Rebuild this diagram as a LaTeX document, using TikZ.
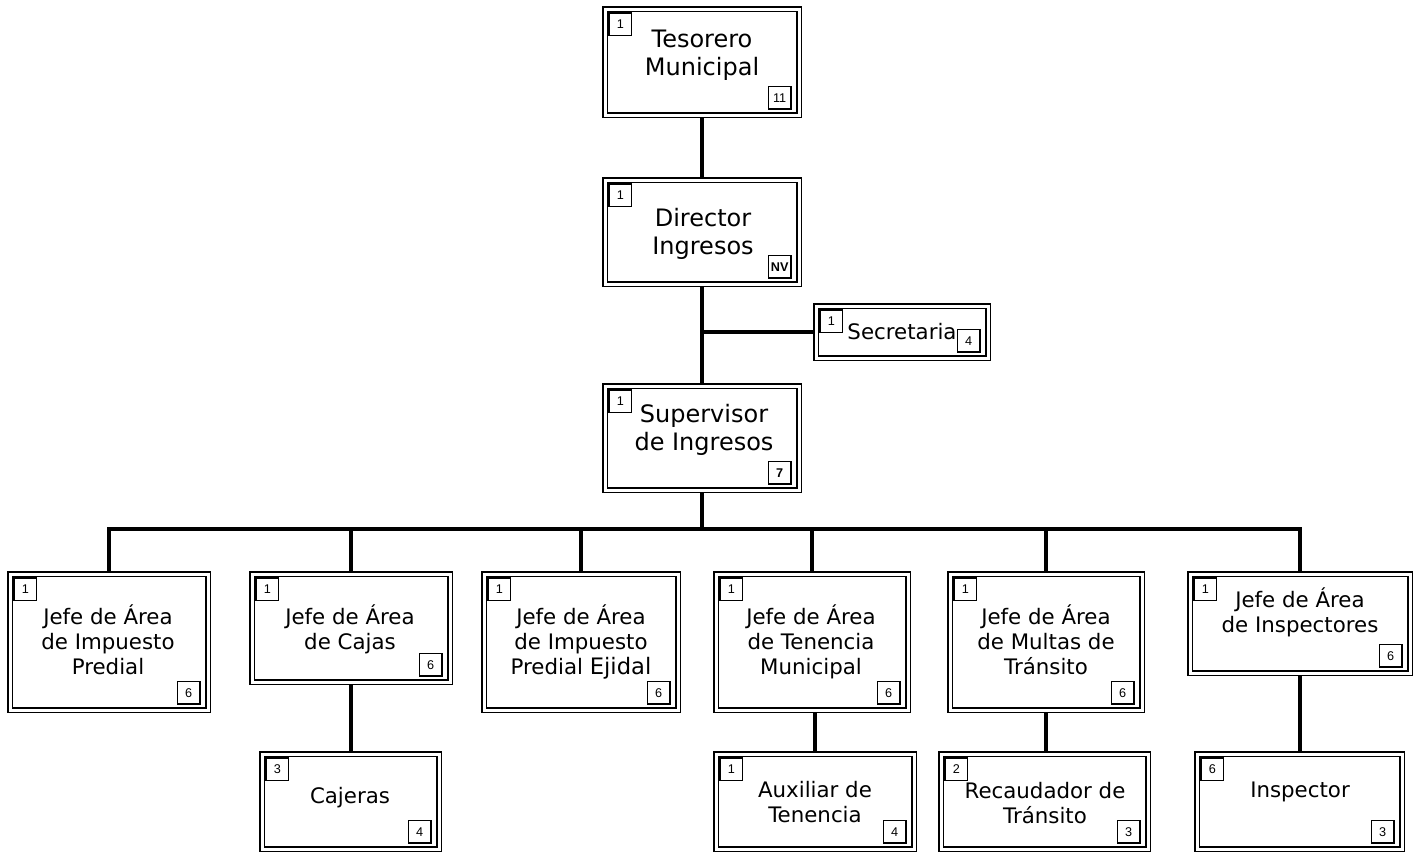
\documentclass[tikz,border=0pt]{standalone}
\usepackage{fontspec}
\setmainfont{DejaVu Sans}
\newfontfamily\numfont{Liberation Sans}
\usetikzlibrary{backgrounds,calc}
\newcommand\lblstrut{\rule{0pt}{30pt}}
\tikzset{
  box/.style={draw, double, line width=1.1pt, double distance=2.25pt, fill=white, inner sep=0pt, outer sep=0pt, rectangle},
  nbox/.style={draw, line width=0.9pt, fill=white, inner sep=0pt, outer sep=0pt, minimum size=17pt, font=\numfont\fontsize{9.5}{10}\selectfont},
  lblbig/.style={inner sep=0pt, anchor=north, align=center, font=\fontsize{18}{21}\selectfont},
  lblmid/.style={inner sep=0pt, anchor=north, align=center, font=\fontsize{16}{18.75}\selectfont},
  conn/.style={line width=3pt},
}
\begin{document}
\begin{tikzpicture}[x=0.75pt,y=-0.75pt]
\useasboundingbox (0,0) rectangle (1421,854);
% boxes
\node[box, minimum width=145.5pt, minimum height=79.5pt] (tes) at (702,62) {};
\node[box, minimum width=145.5pt, minimum height=78pt] (dir) at (702,232) {};
\node[box, minimum width=129pt, minimum height=39pt] (sec) at (902,332) {};
\node[box, minimum width=145.5pt, minimum height=78pt] (sup) at (702,438) {};
\node[box, minimum width=148.5pt, minimum height=102pt] (j1) at (109,642) {};
\node[box, minimum width=148.5pt, minimum height=81pt] (j2) at (351,628) {};
\node[box, minimum width=145.5pt, minimum height=102pt] (j3) at (581,642) {};
\node[box, minimum width=144pt, minimum height=102pt] (j4) at (812,642) {};
\node[box, minimum width=144pt, minimum height=102pt] (j5) at (1046,642) {};
\node[box, minimum width=165pt, minimum height=74.25pt] (j6) at (1300,623.5) {};
\node[box, minimum width=132.75pt, minimum height=71.25pt] (caj) at (350.5,801.5) {};
\node[box, minimum width=148.5pt, minimum height=71.25pt] (aux) at (815,801.5) {};
\node[box, minimum width=155.25pt, minimum height=71.25pt] (rec) at (1044.5,801.5) {};
\node[box, minimum width=153.75pt, minimum height=71.25pt] (ins) at (1299.5,801.5) {};
% labels
\node[lblbig] (tes-t) at (702,7) {\lblstrut Tesorero\\Municipal};
\node[lblbig] (dir-t) at (703,186) {\lblstrut Director\\Ingresos};
\node[lblmid] (sec-t) at (902,299) {\lblstrut Secretaria};
\node[lblbig] (sup-t) at (704,382) {\lblstrut Supervisor\\de Ingresos};
\node[lblmid] (j1-t) at (108,584) {\lblstrut Jefe de Área\\de Impuesto\\Predial};
\node[lblmid] (j2-t) at (350,584) {\lblstrut Jefe de Área\\de Cajas};
\node[lblmid] (j3-t) at (581,584) {\lblstrut Jefe de Área\\de Impuesto\\Predial {\fontsize{17}{18.75}\selectfont Ejidal}};
\node[lblmid] (j4-t) at (811,584) {\lblstrut Jefe de Área\\de Tenencia\\Municipal};
\node[lblmid] (j5-t) at (1046,584) {\lblstrut Jefe de Área\\de Multas de\\Tránsito};
\node[lblmid] (j6-t) at (1300,567) {\lblstrut Jefe de Área\\de Inspectores};
\node[lblmid] (caj-t) at (350,763) {\lblstrut Cajeras};
\node[lblmid] (aux-t) at (815,757) {\lblstrut Auxiliar de\\Tenencia};
\node[lblmid] (rec-t) at (1045,758) {\lblstrut Recaudador de\\Tránsito};
\node[lblmid] (ins-t) at (1300,757) {\lblstrut Inspector};
% number boxes
\foreach \b/\tl/\br in {tes/1/11, dir/1/\textbf{NV}, sec/1/4, sup/1/\textbf{7}, j1/1/6, j2/1/6, j3/1/6, j4/1/6, j5/1/6, j6/1/6, caj/3/4, aux/1/4, rec/2/3, ins/6/3}{
  \node[nbox, anchor=north west] (\b-a) at ([shift={(4,4)}]\b.north west) {\tl};
  \node[nbox, anchor=south east] (\b-b) at ([shift={(-8,-6)}]\b.south east) {\br};
}
% connectors
\coordinate (bus) at (704,529);
\begin{scope}[on background layer]
\draw[conn] (tes.south) -- (dir.north);
\draw[conn] (dir.south) -- (sup.north);
\draw[conn] (sec.west) -- (sec.west -| dir.south);
\draw[conn] (sup.south) -- (sup.south |- bus);
\draw[conn, line cap=rect] (j1.north |- bus) -- (j6.north |- bus);
\foreach \j in {j1,j2,j3,j4,j5,j6}{
  \draw[conn] (\j.north) -- (\j.north |- bus);
}
\draw[conn] (j2.south) -- (j2.south |- caj.north);
\draw[conn] (aux.north) -- (aux.north |- j4.south);
\draw[conn] (j5.south) -- (j5.south |- rec.north);
\draw[conn] (j6.south) -- (j6.south |- ins.north);
\end{scope}
\end{tikzpicture}
\end{document}
